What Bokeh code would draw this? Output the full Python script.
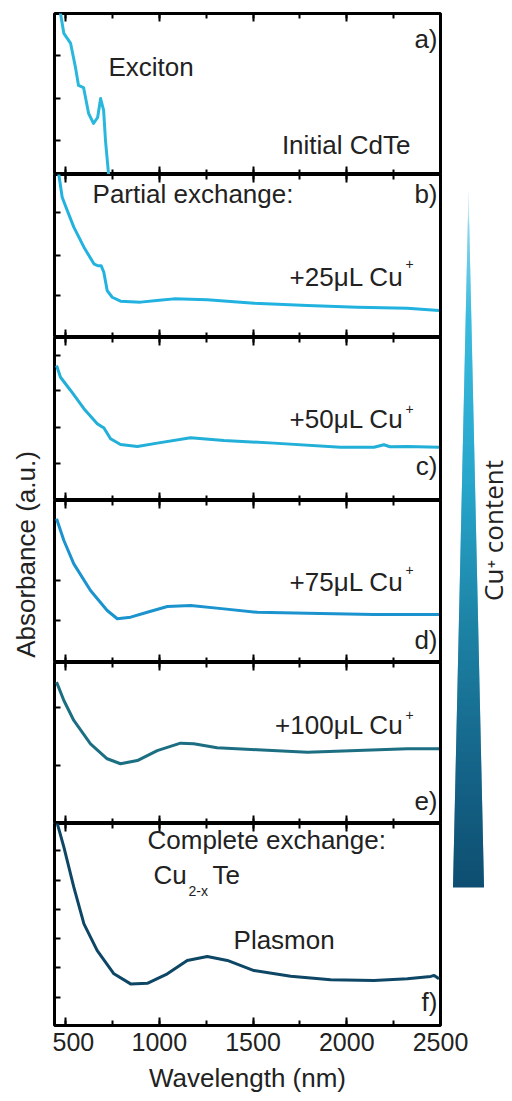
import numpy as np
from bokeh.plotting import figure
from bokeh.models import (Range1d, Label, FixedTicker, SingleIntervalTicker, LinearAxis,
                          CustomLabelingPolicy)
from bokeh.layouts import row, column
from bokeh.embed import file_html
from bokeh.resources import INLINE

# ---------------- data (normalised absorbance, 0 = panel bottom, 1 = panel top) -------------
wl_a = [452, 473, 491, 527, 553, 569, 596, 623, 649, 671, 687, 703, 713, 729, 745]
abs_a = [1.08, 1.00, 0.876, 0.814, 0.665, 0.553, 0.540, 0.379, 0.317, 0.354, 0.472, 0.398, 0.211, 0.006, -0.10]

wl_b = [452, 464, 482, 509, 544, 598, 651, 672, 690, 704, 722, 749, 793, 900, 1000, 1078, 1256, 1505, 1790, 2056, 2323, 2492]
abs_b = [1.07, 1.00, 0.861, 0.779, 0.677, 0.554, 0.452, 0.440, 0.440, 0.400, 0.288, 0.247, 0.223, 0.217, 0.228, 0.237, 0.231, 0.210, 0.196, 0.186, 0.180, 0.166]

wl_c = [452, 473, 527, 598, 669, 690, 704, 740, 793, 883, 989, 1167, 1345, 1611, 1967, 2145, 2198, 2230, 2323, 2492]
abs_c = [0.828, 0.756, 0.675, 0.563, 0.471, 0.455, 0.446, 0.379, 0.344, 0.331, 0.352, 0.385, 0.368, 0.352, 0.327, 0.327, 0.342, 0.330, 0.331, 0.327]

wl_d = [452, 491, 544, 633, 722, 776, 847, 936, 1043, 1167, 1345, 1523, 1790, 2145, 2492]
abs_d = [0.887, 0.753, 0.609, 0.444, 0.321, 0.270, 0.280, 0.310, 0.346, 0.352, 0.331, 0.310, 0.304, 0.296, 0.296]

wl_e = [452, 491, 544, 633, 722, 793, 883, 989, 1113, 1184, 1308, 1523, 1790, 2056, 2323, 2492]
abs_e = [0.878, 0.764, 0.640, 0.495, 0.402, 0.371, 0.391, 0.453, 0.499, 0.495, 0.470, 0.458, 0.443, 0.453, 0.464, 0.464]

wl_f = [446, 456, 491, 544, 598, 669, 758, 847, 936, 1043, 1149, 1256, 1363, 1505, 1701, 1914, 2145, 2323, 2448, 2466, 2492]
abs_f = [1.04, 0.999, 0.883, 0.685, 0.503, 0.371, 0.256, 0.206, 0.209, 0.256, 0.322, 0.342, 0.322, 0.272, 0.244, 0.226, 0.223, 0.231, 0.243, 0.248, 0.231]

panel_tags = ["a)", "b)", "c)", "d)", "e)", "f)"]
dose_labels = ["+25\u03bcL Cu", "+50\u03bcL Cu", "+75\u03bcL Cu", "+100\u03bcL Cu"]
line_colors = ["#2ab7dd", "#22b2e0", "#22afd8", "#1b93cf", "#1c6f82", "#0e4766"]
x_major = 500

# gradient of the "Cu+ content" wedge (apex -> base)
grad_pos = [0.0, 0.05, 0.18, 0.42, 0.62, 0.82, 1.0]
grad_col = ["#f2fafd", "#8ad5ec", "#3abbdf", "#28a6cc", "#1e84a6", "#16668a", "#0f4f72"]

FONT = "Liberation Sans"
TXT = "#222222"
x_rng = Range1d(441, 2500)


def tick_axis(ticker, tin, minor_in):
    return LinearAxis(ticker=ticker, axis_line_color=None,
                      major_tick_in=tin, major_tick_out=0,
                      minor_tick_in=minor_in, minor_tick_out=0,
                      major_tick_line_color="black", minor_tick_line_color="black",
                      major_tick_line_width=2, minor_tick_line_width=2,
                      major_label_text_font_size="0px", major_label_standoff=0,
                      major_label_policy=CustomLabelingPolicy(code="return new Set()"))


def panel(fh, wl, ab, color, yticks, top=0, bottom=0):
    p = figure(frame_width=386, frame_height=fh, x_range=x_rng, y_range=Range1d(0, 1),
               x_axis_location=None, y_axis_location=None,
               min_border_left=2, min_border_right=2, min_border_top=top, min_border_bottom=bottom,
               outline_line_color="black", outline_line_width=3,
               output_backend="svg", toolbar_location=None)
    p.grid.visible = False
    p.add_layout(tick_axis(SingleIntervalTicker(interval=x_major, num_minor_ticks=2), 8, 5), "below")
    p.add_layout(tick_axis(SingleIntervalTicker(interval=x_major, num_minor_ticks=2), 8, 5), "above")
    p.add_layout(tick_axis(FixedTicker(ticks=yticks), 6, 0), "left")
    p.line(wl, ab, line_color=color, line_width=3, line_join="round")
    return p


def lab(p, x, y, text, align="left", size="26px", font=FONT, angle=0.0):
    p.add_layout(Label(x=x, y=y, text=text, text_align=align, text_baseline="middle",
                       text_font=font, text_font_size=size, text_color=TXT, angle=angle))


pa = panel(161, wl_a, abs_a, line_colors[0], [0.211, 0.472, 0.739], top=13)
pb = panel(163, wl_b, abs_b, line_colors[1], [0.258, 0.503, 0.767])
pc = panel(163, wl_c, abs_c, line_colors[2], [0.227, 0.448, 0.675, 0.890])
pd = panel(162, wl_d, abs_d, line_colors[3], [0.259, 0.506])
pe = panel(161, wl_e, abs_e, line_colors[4], [0.360, 0.720])
pf = panel(202, wl_f, abs_f, line_colors[5], [0.139, 0.287, 0.431, 0.574, 0.718, 0.866], bottom=2)

# panel a
lab(pa, 729, 0.665, "Exciton")
lab(pa, 2340, 0.186, "Initial CdTe", "right")
lab(pa, 2484, 0.839, panel_tags[0], "right")
# panel b
lab(pb, 644, 0.880, "Partial exchange:")
lab(pb, 2484, 0.883, panel_tags[1], "right")
# dose panels b-e
for p, d, yc, ys in [(pb, dose_labels[0], 0.374, 0.448), (pc, dose_labels[1], 0.497, 0.564),
                     (pd, dose_labels[2], 0.497, 0.568), (pe, dose_labels[3], 0.612, 0.677)]:
    lab(p, 2303, yc, d, "right")
    lab(p, 2313, ys, "+", "left", size="14px")
lab(pc, 2484, 0.209, panel_tags[2], "right")
lab(pd, 2484, 0.136, panel_tags[3], "right")
lab(pe, 2484, 0.137, panel_tags[4], "right")
# panel f
lab(pf, 937, 0.916, "Complete exchange:")
lab(pf, 969, 0.743, "Cu")
lab(pf, 1156, 0.668, "2-x", size="14px")
lab(pf, 1284, 0.743, "Te")
lab(pf, 1396, 0.421, "Plasmon")
lab(pf, 2484, 0.114, panel_tags[5], "right")

# x tick labels / axis label (spans into the right column so "2500" is not cut)
af = figure(frame_width=386, frame_height=1, x_range=x_rng, y_range=Range1d(0, 1),
            x_axis_location=None, y_axis_location=None,
            min_border_left=2, min_border_right=72, min_border_top=0, min_border_bottom=0,
            outline_line_color=None, output_backend="svg", toolbar_location=None)
af.grid.visible = False
xa = LinearAxis(ticker=SingleIntervalTicker(interval=x_major, num_minor_ticks=0), axis_line_color=None,
                major_tick_in=0, major_tick_out=0, minor_tick_in=0, minor_tick_out=0,
                major_label_text_font=FONT, major_label_text_font_size="25px", major_label_text_color=TXT,
                major_label_standoff=4, axis_label="Wavelength (nm)", axis_label_text_font=FONT,
                axis_label_text_font_size="26px", axis_label_text_font_style="normal",
                axis_label_text_color=TXT, axis_label_standoff=9)
af.add_layout(xa, "below")

# right column: gradient wedge + label
RH = 1027
rf = figure(width=70, height=RH, x_range=Range1d(0, 70), y_range=Range1d(0, RH),
            x_axis_location=None, y_axis_location=None, min_border=0,
            outline_line_color=None, output_backend="svg", toolbar_location=None)
rf.grid.visible = False
apex_x, apex_y, base_y, base_half = 26.0, 835.0, 140.0, 15.5
ys = np.arange(base_y, apex_y, 1.0)
frac = (apex_y - ys) / (apex_y - base_y)
rgb = np.array([[int(c[i:i + 2], 16) for i in (1, 3, 5)] for c in grad_col], dtype=float)
cols = []
for f in frac:
    r = np.interp(f, grad_pos, rgb[:, 0]); g = np.interp(f, grad_pos, rgb[:, 1]); b = np.interp(f, grad_pos, rgb[:, 2])
    cols.append("#%02x%02x%02x" % (int(r), int(g), int(b)))
hw = np.maximum(frac * base_half, 0.4)
rf.quad(left=apex_x - hw, right=apex_x + hw, bottom=ys, top=ys + 1.6, fill_color=cols, line_color=None)
lab(rf, 50, RH - 530, "Cu\u207a content", "center", size="26px", font="Open Sans", angle=np.pi / 2)

# left column: y label
LH = 1100
lf = figure(width=52, height=LH, x_range=Range1d(0, 52), y_range=Range1d(0, LH),
            x_axis_location=None, y_axis_location=None, min_border=0,
            outline_line_color=None, output_backend="svg", toolbar_location=None)
lf.grid.visible = False
lab(lf, 25, LH - 554, "Absorbance (a.u.)", "center", size="26px", angle=np.pi / 2)

layout = row(lf, column(row(column(pa, pb, pc, pd, pe, pf), rf), af))

open("out.html", "w").write(file_html(layout, INLINE))
